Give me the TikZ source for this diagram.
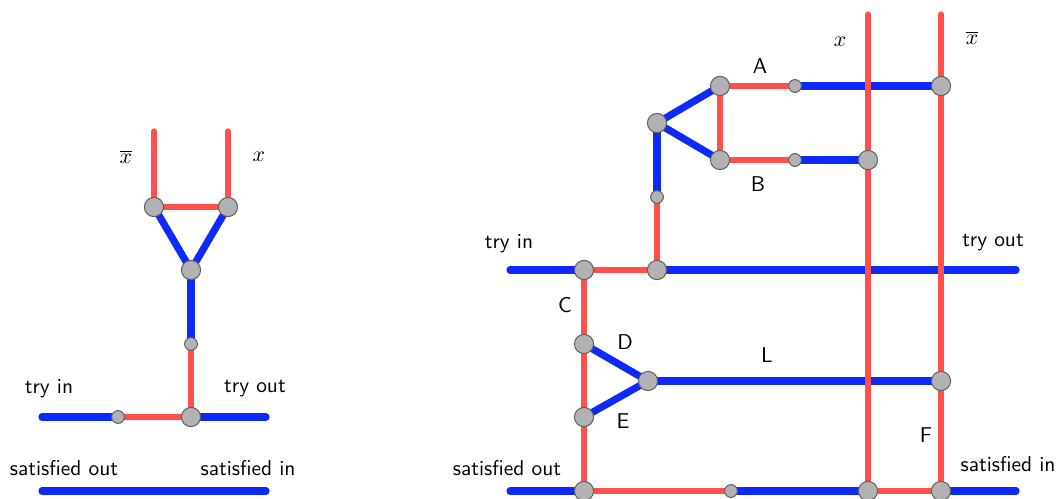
\documentclass[tikz,border=0pt]{standalone}
\usepackage{amsmath}
\usetikzlibrary{backgrounds}
\definecolor{wireblue}{RGB}{14,42,250}
\definecolor{wirered}{RGB}{255,80,75}
\definecolor{knob}{RGB}{178,178,178}
\tikzset{
  bw/.style={draw=wireblue,line width=3.6pt,line cap=round},
  rw/.style={draw=wirered,line width=2.6pt,line cap=round},
  junc/.style={circle,fill=knob,draw=gray!75!black,line width=0.5pt,minimum size=9.6pt,inner sep=0pt},
  dot/.style={junc,minimum size=6.4pt},
  lbl/.style={font=\sffamily\fontsize{10.7}{12}\selectfont,inner sep=1pt}
}
\begin{document}
\begin{tikzpicture}[x=0.5pt,y=-0.5pt]
\useasboundingbox (0,0) rectangle (1059,498);
% left gadget
\coordinate (lxbt) at (154,131);\coordinate (lxt) at (228,131);
\coordinate (ltl) at (42,417);\coordinate (ltr) at (266,417);
\coordinate (lsl) at (42,491);\coordinate (lsr) at (266,491);
\node[junc] (lnbar) at (154,207) {};
\node[junc] (lnx) at (228,207) {};
\node[junc] (lv) at (191,270) {};
\node[dot] (ld) at (191,344) {};
\node[junc] (lj) at (191,417) {};
\node[dot] (ls) at (118,417) {};
% right gadget
\coordinate (rtl) at (510,270);\coordinate (rtr) at (1016,270);
\coordinate (rsl) at (510,491);\coordinate (rsr) at (1016,491);
\coordinate (rxtop) at (868,14);\coordinate (rnxtop) at (941,14);
\node[junc] (ra) at (720,86) {};
\node[junc] (rb) at (720,160) {};
\node[junc] (rv) at (657,123) {};
\node[dot] (ra2) at (795,86) {};
\node[dot] (rb2) at (795,160) {};
\node[junc] (rxa) at (941,86) {};
\node[junc] (rxb) at (868,160) {};
\node[dot] (rd1) at (657,197) {};
\node[junc] (rt) at (657,270) {};
\node[junc] (rtc) at (584,270) {};
\node[junc] (rD) at (584,344) {};
\node[junc] (rE) at (584,417) {};
\node[junc] (rL) at (648,381) {};
\node[junc] (rF) at (941,381) {};
\node[junc] (rs1) at (584,491) {};
\node[dot] (rs2) at (731,491) {};
\node[junc] (rs3) at (868,491) {};
\node[junc] (rs4) at (941,491) {};
\begin{scope}[on background layer]
\draw[bw] (lnbar.center)--(lv.center)--(lnx.center);
\draw[bw] (lv.center)--(ld.center);
\draw[bw] (ltl)--(ls.center);
\draw[bw] (lj.center)--(ltr);
\draw[bw] (lsl)--(lsr);
\draw[rw] (lxbt)--(lnbar.center)--(lnx.center)--(lxt);
\draw[rw] (ld.center)--(lj.center)--(ls.center);
\draw[bw] (ra.center)--(rv.center)--(rb.center);
\draw[bw] (rv.center)--(rd1.center);
\draw[bw] (ra2.center)--(rxa.center);
\draw[bw] (rb2.center)--(rxb.center);
\draw[bw] (rtl)--(rtc.center);
\draw[bw] (rt.center)--(rtr);
\draw[bw] (rD.center)--(rL.center)--(rE.center);
\draw[bw] (rL.center)--(rF.center);
\draw[bw] (rsl)--(rs1.center);
\draw[bw] (rs2.center)--(rs3.center);
\draw[bw] (rs4.center)--(rsr);
\draw[rw] (ra2.center)--(ra.center)--(rb.center)--(rb2.center);
\draw[rw] (rd1.center)--(rt.center)--(rtc.center)--(rs1.center)--(rs2.center);
\draw[rw] (rs3.center)--(rs4.center);
\draw[rw] (rxtop)--(rs3.center);
\draw[rw] (rnxtop)--(rs4.center);
\end{scope}
% labels
\node[lbl] (lbxbar) at (126,157) {$\overline{x}$};
\node[lbl] (lbx) at (259,157) {$x$};
\node[lbl] (lbtin) at (49,389) {try in};
\node[lbl] (lbtout) at (255,389) {try out};
\node[lbl] (lbsout) at (64,468) {satisfied out};
\node[lbl] (lbsin) at (248,468) {satisfied in};
\node[lbl] (rbx) at (840,42) {$x$};
\node[lbl] (rbxbar) at (972,38) {$\overline{x}$};
\node[lbl] (rbA) at (760,66) {A};
\node[lbl] (rbB) at (758,184) {B};
\node[lbl] (rbtin) at (509,244) {try in};
\node[lbl] (rbtout) at (993,243) {try out};
\node[lbl] (rbC) at (565,305) {C};
\node[lbl] (rbD) at (625,342) {D};
\node[lbl] (rbE) at (623,421) {E};
\node[lbl] (rbL) at (767,355) {L};
\node[lbl] (rbF) at (926,435) {F};
\node[lbl] (rbsout) at (507,468) {satisfied out};
\node[lbl] (rbsin) at (1008,464) {satisfied in};
\end{tikzpicture}
\end{document}
